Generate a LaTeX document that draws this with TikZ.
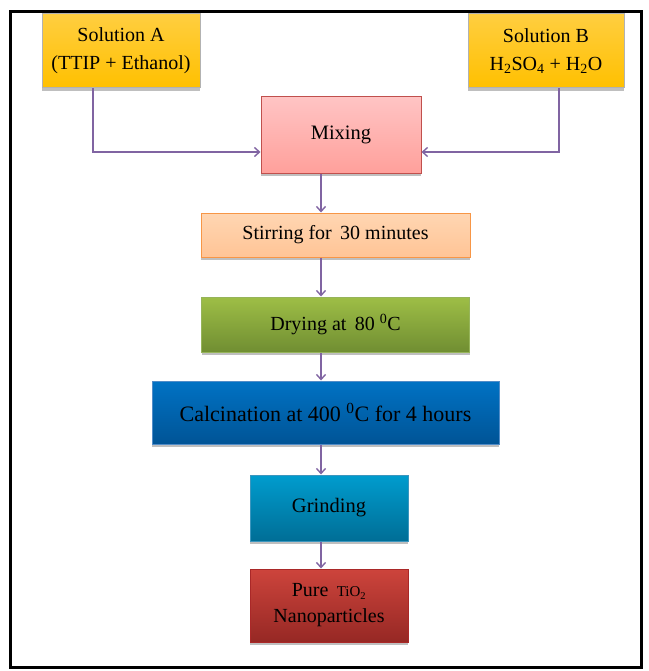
\documentclass[tikz,border=0pt]{standalone}
\usepackage{fontspec}
\setmainfont{Liberation Serif}
\usetikzlibrary{arrows.meta,shadows}
\definecolor{arrowpurple}{RGB}{128,100,162}
\tikzset{
  box/.style={rectangle, draw, line width=1pt, align=center, inner sep=0pt,
    drop shadow={shadow xshift=0pt, shadow yshift=-3pt, opacity=0.25, fill=black}},
  flow/.style={draw=arrowpurple, line width=1.6pt, -{Straight Barb[length=5pt,width=9pt,line width=1.4pt]}},
}
\begin{document}
\begin{tikzpicture}[x=1pt,y=-1pt]
\useasboundingbox (0,0) rectangle (648,671);
\draw[line width=3pt] (10,12) rectangle (641,667);
% top inputs
\node[box, draw=gray!60, top color={rgb,255:red,255;green,206;blue,64}, bottom color={rgb,255:red,255;green,192;blue,0},
  minimum width=158pt, minimum height=74pt, font=\fontsize{20}{28}\selectfont] (solA) at (121,51)
  {Solution A\\(TTIP + Ethanol)};
\node[box, draw=gray!60, top color={rgb,255:red,255;green,206;blue,64}, bottom color={rgb,255:red,255;green,192;blue,0},
  minimum width=156pt, minimum height=74pt, font=\fontsize{20}{28}\selectfont] (solB) at (546,51)
  {Solution B\\H\textsubscript{2}SO\textsubscript{4} + H\textsubscript{2}O};
\node[box, draw={rgb,255:red,192;green,80;blue,77}, top color={rgb,255:red,255;green,196;blue,196}, bottom color={rgb,255:red,255;green,160;blue,155},
  minimum width=160pt, minimum height=76pt, font=\fontsize{20.5}{22}\selectfont] (mix) at (341,135) {Mixing};
\node[box, draw={rgb,255:red,247;green,150;blue,70}, top color={rgb,255:red,255;green,214;blue,178}, bottom color={rgb,255:red,255;green,196;blue,150},
  minimum width=269pt, minimum height=44pt, font=\fontsize{20}{22}\selectfont] (stir) at (335.5,235) {Stirring for\, 30 minutes};
\node[box, draw={rgb,255:red,150;green,180;blue,90}, top color={rgb,255:red,158;green,190;blue,70}, bottom color={rgb,255:red,112;green,142;blue,50},
  minimum width=268pt, minimum height=55pt, font=\fontsize{20}{22}\selectfont] (dry) at (335.5,324.5) {Drying at\, 80 \textsuperscript{0}C};
\node[box, draw={rgb,255:red,80;green,140;blue,200}, top color={rgb,255:red,0;green,114;blue,196}, bottom color={rgb,255:red,0;green,84;blue,150},
  minimum width=347pt, minimum height=63pt, font=\fontsize{22}{24}\selectfont] (calc) at (325.5,412.5) {Calcination at 400 \textsuperscript{0}C for 4 hours};
\node[box, draw={rgb,255:red,60;green,150;blue,190}, top color={rgb,255:red,0;green,156;blue,206}, bottom color={rgb,255:red,0;green,110;blue,150},
  minimum width=158pt, minimum height=66pt, font=\fontsize{20.5}{22}\selectfont] (grind) at (329,508) {Grinding};
\node[box, draw={rgb,255:red,170;green,40;blue,40}, top color={rgb,255:red,205;green,68;blue,60}, bottom color={rgb,255:red,150;green,40;blue,36},
  minimum width=158pt, minimum height=73pt, font=\fontsize{20}{26}\selectfont] (pure) at (329,605.5)
  {Pure\, {\fontsize{15}{17}\selectfont TiO\textsubscript{2}}\\Nanoparticles};
% connectors
\coordinate (ja) at (93,152);
\coordinate (jb) at (559,152);
\draw[flow] (solA.south -| ja) -- (ja) -- (ja -| mix.west);
\draw[flow] (solB.south -| jb) -- (jb) -- (jb -| mix.east);
\coordinate (cx) at (321,0);
\draw[flow] (mix.south -| cx) -- (stir.north -| cx);
\draw[flow] (stir.south -| cx) -- (dry.north -| cx);
\draw[flow] (dry.south -| cx) -- (calc.north -| cx);
\draw[flow] (calc.south -| cx) -- (grind.north -| cx);
\draw[flow] (grind.south -| cx) -- (pure.north -| cx);
\end{tikzpicture}
\end{document}
